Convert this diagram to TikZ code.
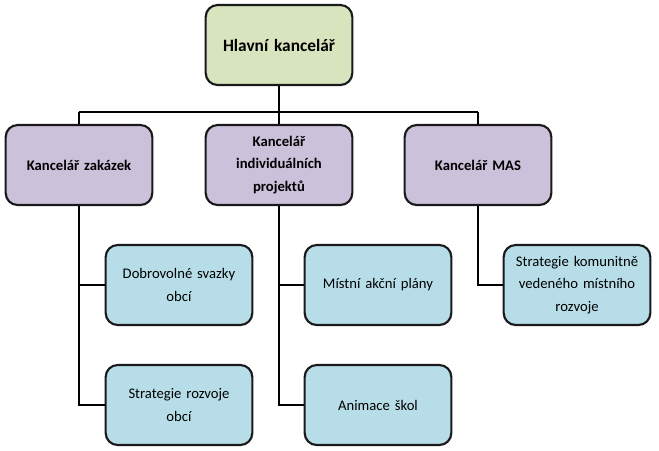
\documentclass[tikz,border=0pt]{standalone}
\usepackage{fontspec}
\setmainfont{Carlito}
\definecolor{topgreen}{HTML}{D7E4BD}
\definecolor{midpurple}{HTML}{CCC1DA}
\definecolor{lowteal}{HTML}{B7DEE8}
\definecolor{boxline}{HTML}{1A1A1A}
\tikzset{
  unit/.style={draw=boxline, line width=1.6pt, rounded corners=9pt, align=center,
    minimum width=110pt, minimum height=60pt, text width=100pt,
    font=\fontsize{11}{17}\selectfont, inner sep=2pt},
  headbox/.style={unit, fill=topgreen, font=\fontsize{13}{17}\selectfont\bfseries},
  officebox/.style={unit, fill=midpurple, font=\fontsize{11}{17}\selectfont\bfseries},
  taskbox/.style={unit, fill=lowteal},
  link/.style={line width=2.2pt, black}
}
\begin{document}
\begin{tikzpicture}[x=0.75pt,y=-0.75pt]
  \useasboundingbox (0,0) rectangle (659,450);

  % links (drawn first, under the boxes)
  \coordinate (hl) at (79,112);
  \coordinate (hr) at (478,112);
  \coordinate (hc) at (279,112);

  % head
  \node [headbox] (head) at (279,45) {Hlavní kancelář};

  % offices
  \node [officebox] (zak) at (79,165) {Kancelář zakázek};
  \node [officebox] (ind) at (279,165) {Kancelář\\individuálních\\projektů};
  \node [officebox] (mas) at (478,165) {Kancelář MAS};

  % tasks
  \node [taskbox] (dso) at (179,285) {Dobrovolné svazky\\obcí};
  \node [taskbox] (sro) at (179,405) {Strategie rozvoje\\obcí};
  \node [taskbox] (map) at (378,285) {Místní akční plány};
  \node [taskbox] (ans) at (378,405) {Animace škol};
  \node [taskbox] (skv) at (577,285) {Strategie komunitně\\vedeného místního\\rozvoje};

  \begin{scope}[on background layer/.style={}]
  \end{scope}
  \draw [link] (head.south) -- (hc);
  \draw [link] (hl) -- (hr);
  \draw [link] (hl) -- (zak.north);
  \draw [link] (hc) -- (ind.north);
  \draw [link] (hr) -- (mas.north);

  \draw [link] (zak.south) |- (sro.west);
  \draw [link] (zak.south |- dso.west) -- (dso.west);
  \draw [link] (ind.south) |- (ans.west);
  \draw [link] (ind.south |- map.west) -- (map.west);
  \draw [link] (mas.south) |- (skv.west);
\end{tikzpicture}
\end{document}
